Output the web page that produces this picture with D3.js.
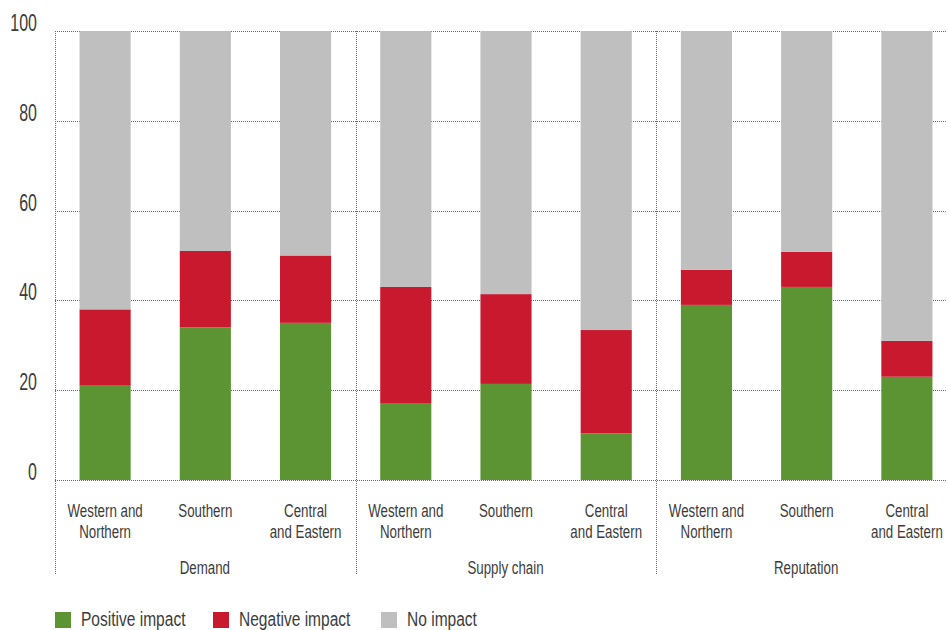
<!DOCTYPE html>
<html><head><meta charset="utf-8">
<script src="https://cdn.jsdelivr.net/npm/d3@7"></script>
<style>
body{margin:0;background:#fff;}
text{font-family:"Liberation Sans",Arial,sans-serif;fill:#3c3c3c;}
</style></head>
<body><svg id="chart" width="946" height="630"></svg>
<script>
const groups = ["Demand", "Supply chain", "Reputation"];
const regions = [["Western and", "Northern"], ["Southern"], ["Central", "and Eastern"]];
const positive = [21, 34, 35, 17, 21.4, 10.4, 39, 43, 23];
const negative = [17, 17, 15, 26, 20, 23, 7.8, 7.8, 8];
const noImpact = [62, 49, 50, 57, 58.6, 66.6, 53.2, 49.2, 69];
const yTicks = [0, 20, 40, 60, 80, 100];
const seriesNames = ["Positive impact", "Negative impact", "No impact"];
const colors = ["#5c9433", "#c8192e", "#bfbfbf"];

(function () {
const svg = d3.select("#chart");
const pLeft = 55, pRight = 957, pTop = 31, pBottom = 480;
const idx = d3.range(positive.length);
const x = d3.scaleBand().domain(idx).range([pLeft, pRight]).paddingInner(0.49).paddingOuter(0.245);
const g = d3.scaleBand().domain(d3.range(groups.length)).range([pLeft, pRight]);
const y = d3.scaleLinear().domain([0, 100]).range([pBottom, pTop]);

// condensed text helper: horizontally squeezed Liberation Sans
function label(px, py, lines, size, anchor, sx, lh) {
  const t = svg.append("text")
    .attr("transform", `translate(${px},${py}) scale(${sx},1)`)
    .attr("text-anchor", anchor).attr("font-size", size);
  lines.forEach((l, k) => t.append("tspan").attr("x", 0).attr("y", k * (lh || 0)).text(l));
  return t;
}

const gridColor = "#666", dash = "1,1";
svg.append("g").selectAll("line").data(yTicks).join("line")
  .attr("x1", pLeft).attr("x2", pRight)
  .attr("y1", d => Math.round(y(d)) + 0.5).attr("y2", d => Math.round(y(d)) + 0.5)
  .attr("stroke", gridColor).attr("stroke-dasharray", dash);
svg.append("g").selectAll("line").data(d3.range(groups.length + 1)).join("line")
  .attr("x1", d => Math.round(pLeft + d * g.step()) + 0.5).attr("x2", d => Math.round(pLeft + d * g.step()) + 0.5)
  .attr("y1", pTop).attr("y2", 575)
  .attr("stroke", gridColor).attr("stroke-dasharray", dash);

const rows = idx.map(i => ({i, p: positive[i], n: negative[i], o: noImpact[i]}));
const series = d3.stack().keys(["p", "n", "o"])(rows);
svg.append("g").selectAll("g").data(series).join("g")
  .attr("fill", (d, k) => colors[k])
  .selectAll("rect").data(d => d).join("rect")
  .attr("x", d => x(d.data.i)).attr("width", x.bandwidth())
  .attr("y", d => y(d[1])).attr("height", d => y(d[0]) - y(d[1]));

yTicks.forEach(v => label(37, y(v), [String(v)], 23.5, "end", 0.68));

idx.forEach(i => {
  label(x(i) + x.bandwidth() / 2, 517, regions[i % regions.length], 18.5, "middle", 0.72, 21);
});
groups.forEach((gr, k) => label(g(k) + g.bandwidth() / 2 - 0.5, 574, [gr], 18.5, "middle", 0.72));

const legX = [55, 213, 381];
seriesNames.forEach((s, k) => {
  svg.append("rect").attr("x", legX[k]).attr("y", 612).attr("width", 16).attr("height", 16).attr("fill", colors[k]);
  label(legX[k] + 26, 625.5, [s], 21, "start", 0.74);
});
})();
</script></body></html>
